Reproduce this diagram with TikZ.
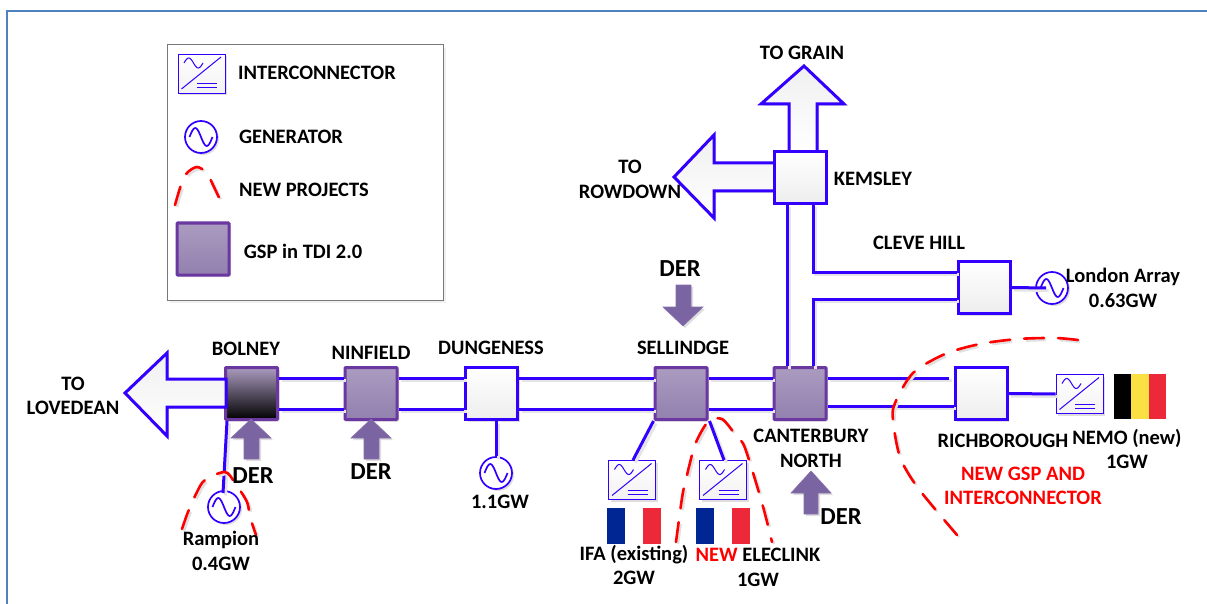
\documentclass[tikz,border=0pt]{standalone}
\usepackage{fontspec}
\setmainfont{Carlito}
\usetikzlibrary{positioning, calc, shadows}
\definecolor{busblue}{RGB}{51,0,255}
\definecolor{gsppurple}{RGB}{107,55,160}
\definecolor{gsptop}{RGB}{171,155,192}
\definecolor{gspbot}{RGB}{146,128,174}
\definecolor{dertop}{RGB}{133,112,172}
\definecolor{derbot}{RGB}{122,100,162}
\definecolor{newred}{RGB}{255,0,0}
\definecolor{framblue}{RGB}{79,129,189}
\definecolor{legendgray}{RGB}{120,120,120}
\definecolor{frblue}{RGB}{0,38,148}
\definecolor{frred}{RGB}{237,41,57}
\definecolor{beyellow}{RGB}{250,224,66}
\tikzset{
  softshadow/.style={drop shadow={shadow xshift=2pt, shadow yshift=-2pt, fill=black, opacity=0.13}},
  bus/.style={draw=busblue, line width=3pt,
    preaction={draw=black!10, line width=3pt, transform canvas={xshift=2.5pt, yshift=-2.5pt}}},
  gsp/.style={rectangle, draw=gsppurple, top color=gsptop, bottom color=gspbot,
    minimum size=52pt, inner sep=0pt, line width=3pt, rounded corners=0.8pt, softshadow},
  darkgsp/.style={gsp, top color=gsptop, bottom color=black},
  plainsub/.style={rectangle, draw=busblue, top color=white, bottom color=black!7,
    minimum size=52pt, inner sep=0pt, line width=3pt, softshadow},
  bigarrow/.style={draw=busblue, line width=3pt, line join=miter, top color=black!6, bottom color=white, softshadow},
  derarrow/.style={fill=derbot, draw=dertop, line width=0.6pt, softshadow},
  newdash/.style={draw=newred, line width=2.6pt, line cap=round, dash pattern=#1,
    preaction={draw=black!12, line width=2.6pt, dash pattern=#1, transform canvas={xshift=2pt, yshift=-2pt}}},
  newdash/.default={on 20pt off 14pt},
  gen/.style={circle, draw=busblue, fill=white, line width=1.7pt, minimum size=32pt, inner sep=0pt,
    softshadow, path picture={
      \draw[busblue, line width=1.7pt, shift={(path picture bounding box.center)}]
        plot[smooth, domain=-1:1, samples=25] ({11.5*\x},{9*sin(180*\x)});}},
  inter/.style={rectangle, draw=busblue, top color=white, bottom color=black!5, line width=0.9pt,
    minimum width=47pt, minimum height=39pt, inner sep=0pt, softshadow, path picture={
      \begin{scope}[shift={(path picture bounding box.center)}, busblue, line width=1pt]
        \draw (-20,15.5) -- (19.5,-16.5);
        \draw plot[smooth, domain=-1:1, samples=21] ({-8+9.5*\x},{-10.5+5*sin(180*\x)});
        \draw (-4.5,10) -- (15.5,10);
        \draw (-4.5,14) -- (15.5,14);
      \end{scope}}},
  tricolor/.style n args={5}{rectangle, inner sep=0pt, minimum width={2*#4}, minimum height={2*#5},
    path picture={
      \begin{scope}[shift={(path picture bounding box.center)}]
        \fill[#1] (-#4,-#5) rectangle (-#4/3,#5);
        \fill[#2] (-#4/3,-#5) rectangle (#4/3,#5);
        \fill[#3] (#4/3,-#5) rectangle (#4,#5);
      \end{scope}}},
  frflag/.style={tricolor={frblue}{white}{frred}{27}{18}},
  beflag/.style={tricolor={black}{beyellow}{frred}{26}{22.5}},
  lbl/.style={font=\fontsize{20.5}{24.5}\selectfont\bfseries, align=center, inner sep=0pt},
  redlbl/.style={lbl, text=newred},
  derlbl/.style={font=\fontsize{24.5}{26}\selectfont\bfseries, inner sep=0pt}
}
\begin{document}
\begin{tikzpicture}[x=1pt, y=-1pt]
  \useasboundingbox (0,0) rectangle (1207,604);
  \draw[framblue, line width=2pt] (7,606) -- (7,11) -- (1209,11);

  % Legend
  \node[rectangle, draw=legendgray, fill=white, line width=1pt, minimum width=276pt, minimum height=255pt,
    drop shadow={shadow xshift=3pt, shadow yshift=-3pt, fill=black, opacity=0.06}] (legendbox) at (305,172.5) {};
  \node[inter] (keyinter) at (201.5,73.5) {};
  \node[gen] (keygen) at (201,137) {};
  \draw[newdash={on 19pt off 14pt}] plot[smooth] coordinates {(175,205) (181,185) (187,173) (197,167) (207,173) (213,185) (223,206)};
  \node[gsp] (keygsp) at (203,249) {};
  \node[lbl] (keyintertxt) at (317,73) {INTERCONNECTOR};
  \node[lbl] (keygentxt) at (291,137) {GENERATOR};
  \node[lbl] (keynewtxt) at (304,190) {NEW PROJECTS};
  \node[lbl] (keygsptxt) at (303,251) {GSP in TDI 2.0};

  % Boundary arrows
  \draw[bigarrow] (804,66) -- (844,104) -- (817,104) -- (817,152) -- (789,152) -- (789,104) -- (761,104) -- cycle;
  \draw[bigarrow] (674,177) -- (714,135) -- (714,163) -- (775,163) -- (775,191) -- (714,191) -- (714,218) -- cycle;

  % Substations
  \node[darkgsp] (bolney) at (251.5,393.5) {};
  \node[gsp] (ninfield) at (371,393.5) {};
  \node[plainsub] (dungeness) at (491.5,393.5) {};
  \node[gsp] (sellindge) at (681,393.5) {};
  \node[gsp] (canterbury) at (800,393.5) {};
  \node[plainsub] (richborough) at (981,393.5) {};
  \node[plainsub] (clevehill) at (984,287.5) {};
  \node[plainsub] (kemsley) at (800,177.5) {};
  \draw[bigarrow] (125,393) -- (167,353) -- (167,379) -- (226,379) -- (226,407) -- (167,407) -- (167,436) -- cycle;

  % Double circuits
  \foreach \from/\to in {bolney/ninfield, ninfield/dungeness, dungeness/sellindge, sellindge/canterbury} {
    \draw[bus] ([yshift=15.5pt]\from.east) -- ([yshift=15.5pt]\to.west);
    \draw[bus] ([yshift=-15.5pt]\from.east) -- ([yshift=-15.5pt]\to.west);
  }
  \coordinate (richgap) at (949,378);
  \draw[bus] ([yshift=15.5pt]canterbury.east) -- (richgap);
  \draw[bus] ([yshift=-12.5pt]canterbury.east) -- ([yshift=-12.5pt]richborough.west);
  \draw[bus] ([xshift=-13pt]kemsley.south) -- ([xshift=-13pt]canterbury.north);
  \draw[bus] ([xshift=13pt]kemsley.south) |- ([yshift=15.5pt]clevehill.west);
  \draw[bus] ([xshift=13pt]canterbury.north) |- ([yshift=-11.5pt]clevehill.west);

  % Generators and interconnectors
  \node[gen] (rampion) at (224,507) {};
  \node[gen] (dungen) at (496,473) {};
  \node[gen] (london) at (1052,288) {};
  \node[inter] (ifa) at (632,480) {};
  \node[inter] (eleclink) at (723,480) {};
  \node[inter] (nemo) at (1079.5,394) {};
  \draw[bus] ([xshift=3pt]bolney.south west) -- ([xshift=-1pt,yshift=14pt]rampion.center);
  \draw[bus] (dungeness.south -| dungen) -- (dungen.north);
  \draw[bus] (clevehill.east) -- ([xshift=-6pt]london.center);
  \draw[bus] (sellindge.south west) -- ([xshift=1pt]ifa.north);
  \draw[bus] ([xshift=1pt]sellindge.south east) -- ([xshift=1pt]eleclink.north);
  \draw[bus] (richborough.east) -- (nemo.west);

  % Flags
  \node[frflag] (ifaflag) at (634,526) {};
  \node[frflag] (eleflag) at (723,526) {};
  \node[beflag] (nemoflag) at (1140,396.5) {};

  % DER injections
  \draw[derarrow] (251,419) -- (271,438) -- (259,438) -- (259,459) -- (244,459) -- (244,438) -- (231,438) -- cycle;
  \draw[derarrow] (371,419) -- (391,438) -- (379,438) -- (379,459) -- (364,459) -- (364,438) -- (351,438) -- cycle;
  \draw[derarrow] (811,471) -- (831,493) -- (818,493) -- (818,514) -- (804,514) -- (804,493) -- (791,493) -- cycle;
  \draw[derarrow] (683,326) -- (703,307) -- (691,307) -- (691,285) -- (676,285) -- (676,307) -- (663,307) -- cycle;

  % New projects
  \draw[newdash] plot[smooth] coordinates {(182,529) (188,512) (197,492) (205,480) (225,472) (235,483) (247,502) (250,517) (256,535)};
  \draw[newdash] plot[smooth] coordinates {(676,542) (680,512) (683,492) (687,475) (692,455) (697,440) (708,422) (722,419) (737,437) (745,448) (762,503) (772,542)};
  \draw[newdash] plot[smooth] coordinates {(1078,340) (1055,338) (1018,339) (980,344) (945,354) (913,373) (895,403) (893,420) (900,457) (918,488) (957,535)};

  % Labels
  \node[lbl] (bolneytxt) at (246,349) {BOLNEY};
  \node[lbl] (ninfieldtxt) at (371,353) {NINFIELD};
  \node[lbl] (dungenesstxt) at (491,348) {DUNGENESS};
  \node[lbl] (sellindgetxt) at (683,348) {SELLINDGE};
  \node[lbl] (lovedeantxt) at (73,396) {TO\\LOVEDEAN};
  \node[lbl] (graintxt) at (802,53) {TO GRAIN};
  \node[lbl] (rowdowntxt) at (630,179.5) {TO\\ROWDOWN};
  \node[lbl] (kemsleytxt) at (873,179) {KEMSLEY};
  \node[lbl] (clevetxt) at (919,243) {CLEVE HILL};
  \node[lbl] (londontxt) at (1123,288) {London Array\\0.63GW};
  \node[lbl] (richtxt) at (1003,441) {RICHBOROUGH};
  \node[lbl] (nemotxt) at (1127,449) {NEMO (new)\\1GW};
  \node[redlbl] (newgsptxt) at (1023,486) {NEW GSP AND\\INTERCONNECTOR};
  \node[lbl] (canterburytxt) at (811,448.5) {CANTERBURY\\NORTH};
  \node[lbl] (rampiontxt) at (221,551) {Rampion\\0.4GW};
  \node[lbl] (dungentxt) at (500,502) {1.1GW};
  \node[lbl] (ifatxt) at (634,565) {IFA (existing)\\2GW};
  \node[lbl] (eleclinktxt) at (758,567.5) {{\color{newred}NEW} ELECLINK\\1GW};
  \node[derlbl] (derbolney) at (253,476) {DER};
  \node[derlbl] (derninfield) at (371,472) {DER};
  \node[derlbl] (dersellindge) at (680,269) {DER};
  \node[derlbl] (dercanterbury) at (841,517) {DER};
\end{tikzpicture}
\end{document}
